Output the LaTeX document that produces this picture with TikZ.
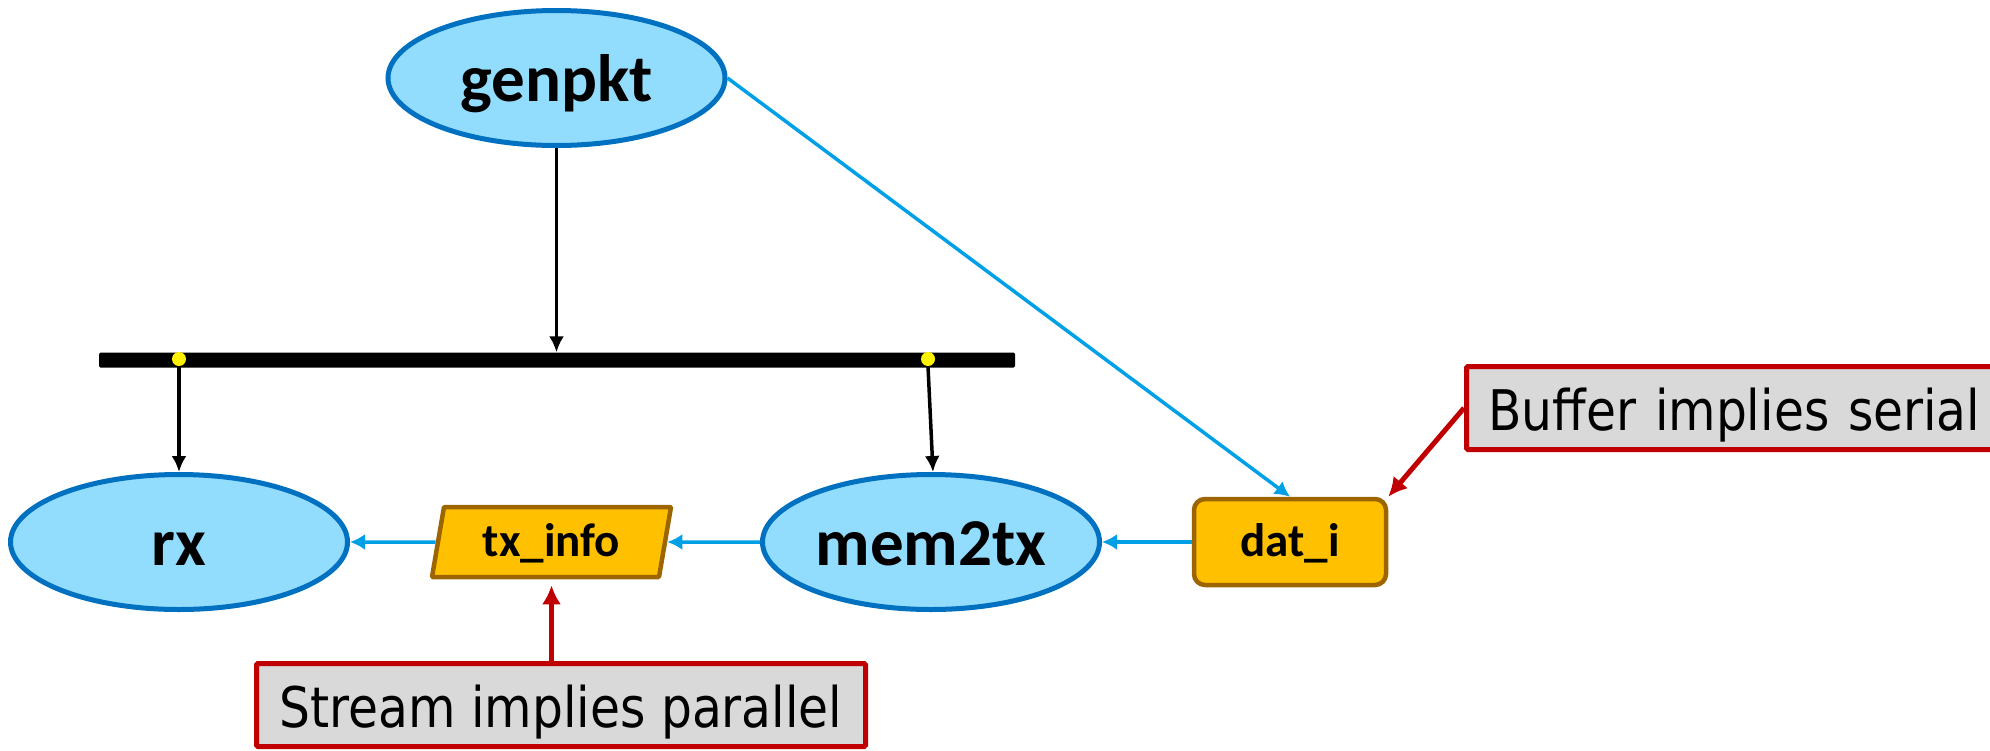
\documentclass[tikz,border=0pt]{standalone}
\usepackage{fontspec}
\setmainfont{Carlito}
\newfontfamily\calloutfont[FakeStretch=0.87]{DejaVu Sans}
\usetikzlibrary{arrows.meta,shapes.geometric}

\definecolor{procfill}{RGB}{146,220,254}
\definecolor{procline}{RGB}{0,112,192}
\definecolor{flowblue}{RGB}{0,160,230}
\definecolor{buffill}{RGB}{255,192,0}
\definecolor{bufline}{RGB}{156,101,0}
\definecolor{notered}{RGB}{192,0,0}
\definecolor{notefill}{RGB}{217,217,217}

\begin{document}
\begin{tikzpicture}[x=1pt,y=-1pt,
  proc/.style={ellipse, draw=procline, fill=procfill, line width=5pt,
    minimum width=337pt, minimum height=135pt, inner sep=0pt,
    text height=60pt, text depth=14pt,
    font=\fontsize{67}{70}\selectfont\bfseries},
  chan/.style={draw=bufline, fill=buffill, line width=4.5pt, inner sep=0pt,
    text height=40pt, text depth=12pt,
    font=\fontsize{47}{50}\selectfont\bfseries},
  streambox/.style={chan, trapezium, trapezium left angle=77,
    trapezium right angle=103, trapezium stretches body,
    minimum width=239pt, minimum height=70pt, rounded corners=1pt},
  bufbox/.style={chan, rectangle, rounded corners=11pt,
    minimum width=192pt, minimum height=86pt},
  note/.style={draw=notered, fill=notefill, line width=5pt, rounded corners=1.5pt,
    inner ysep=0pt, minimum height=83pt, text height=56pt, text depth=12pt,
    font=\calloutfont\fontsize{56}{60}\selectfont},
  busbar/.style={rectangle, fill=black, minimum width=916pt, minimum height=15pt,
    inner sep=0pt, rounded corners=1.5pt},
  tap/.style={circle, fill=yellow, minimum size=14pt, inner sep=0pt},
  ctl/.style={draw=black, line width=3.5pt, -{Latex[length=16pt,width=15pt]}},
  flow/.style={draw=flowblue, line width=3.5pt, -{Latex[length=15pt,width=16pt]}},
  hint/.style={draw=notered, line width=5pt, -{Latex[length=19pt,width=19pt]}}
]
\useasboundingbox (0,0) rectangle (1990,750);
\clip (0,0) rectangle (1990,750);

% processes
\node[proc] (genpkt) at (556.5,78) {genpkt};
\node[proc] (rx)     at (179,542)  {rx};
\node[proc] (mem2tx) at (931,542)  {mem2tx};

% channels between them
\node[streambox] (txinfo) at (551.5,542) {tx\_info};
\node[bufbox]    (dati)   at (1290,542)  {dat\_i};

% broadcast bus
\node[busbar] (bus) at (557,360) {};
\node[tap] (tapA) at (179,359) {};
\node[tap] (tapB) at (928,359) {};

% control edges
\draw[ctl] (genpkt.south) -- (genpkt.south |- bus.north);
\draw[ctl] (tapA.south) -- (rx.north);
\draw[ctl] (tapB.south) -- ([xshift=2pt]mem2tx.north);

% data flow
\draw[flow] (genpkt.east) -- (dati.north);
\draw[flow] (dati.west) -- (mem2tx.east);
\draw[flow] (mem2tx.west) -- (txinfo.east);
\draw[flow] (txinfo.west) -- (rx.east);

% annotations
\node[note, minimum width=609pt, inner xsep=0pt] (streamnote) at (561,705)
  {Stream implies parallel};
\node[note, anchor=west, text width=500pt, align=left, inner xsep=22pt]
  (bufnote) at (1464,408) {Buffer implies serial};

\draw[hint, shorten >=6pt] (txinfo.south |- streamnote.north) -- (txinfo.south);
\draw[hint] (bufnote.west) -- (dati.north east);
\end{tikzpicture}
\end{document}
